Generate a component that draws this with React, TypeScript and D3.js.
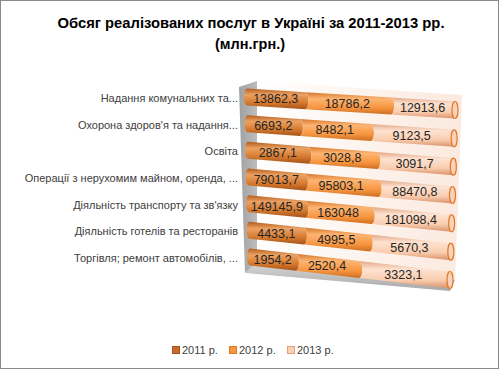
import React from 'react';
import * as d3 from 'd3';

const categories = [
  "Надання комунальних та...",
  "Охорона здоров'я та надання...",
  "Освіта",
  "Операції з нерухомим майном, оренда, ...",
  "Діяльність транспорту та зв'язку",
  "Діяльність готелів та ресторанів",
  "Торгівля; ремонт автомобілів, ...",
];
const seriesNames = ["2011 р.", "2012 р.", "2013 р."];
const values2011 = [13862.3, 6693.2, 2867.1, 79013.7, 149145.9, 4433.1, 1954.2];
const values2012 = [18786.2, 8482.1, 3028.8, 95803.1, 163048, 4995.5, 2520.4];
const values2013 = [12913.6, 9123.5, 3091.7, 88470.8, 181098.4, 5670.3, 3323.1];

const W = 500;
const H = 371;

// cylinder shading: top, highlight, base, bottom
const shades = [
  ["#b35d1c", "#eba264", "#d5782c", "#a4531a"],
  ["#d7772b", "#fcb573", "#f7953f", "#cc6c20"],
  ["#e2a887", "#fde2d0", "#f9ccae", "#d8906a"],
];
const legendFill = ["#c9692a", "#f7963f", "#fbd0b4"];
const legendStroke = ["#a9541c", "#e07a2a", "#e6a17a"];

const fmt = (v: number) => String(v).replace('.', ',');

export default function App() {
  const series = [values2011, values2012, values2013];
  const rows = categories.map((c, i) => {
    const total = series.reduce((s, arr) => s + arr[i], 0);
    let acc = 0;
    const segs = series.map((arr, j) => {
      const t0 = acc / total;
      acc += arr[i];
      return { j, t0, t1: acc / total, v: arr[i] };
    });
    return { c, segs };
  });

  // perspective of the 3D plot: ends of each bar
  const yLeft = d3.scalePoint<string>().domain(categories).range([97, 257]);
  const yRight = d3.scalePoint<string>().domain(categories).range([110, 280]);
  const xLeft = d3.scalePoint<string>().domain(categories).range([247, 250]);
  const xRight = d3.scalePoint<string>().domain(categories).range([455, 450]);
  const pct = d3.scaleLinear().domain([0, 1]).range([0, 1]);
  const depth = 1.12;
  const warp = (t: number) => {
    const u = pct(t);
    return u / (u + (1 - u) * depth);
  };
  const pos = (c: string, t: number) => {
    const f = warp(t);
    const xl = xLeft(c)!, xr = xRight(c)!, yl = yLeft(c)!, yr = yRight(c)!;
    return [xl + f * (xr - xl), yl + f * (yr - yl)];
  };
  const r = 8.5;
  const rx = 3;

  const segPath = (c: string, t0: number, t1: number, first: boolean) => {
    const [x0, y0] = pos(c, t0);
    const [x1, y1] = pos(c, t1);
    return `M${x0},${y0 - r}L${x1},${y1 - r}A${rx},${r} 0 0 1 ${x1},${y1 + r}L${x0},${y0 + r}A${rx},${r} 0 0 ${first ? 1 : 0} ${x0},${y0 - r}Z`;
  };

  return (
    <svg width={W} height={H} style={{ position: 'absolute', left: 0, top: 0, background: '#fff' }}
      fontFamily="'Liberation Sans', Arial, sans-serif">
      <defs>
        {shades.map((s, j) => (
          <linearGradient key={j} id={`cyl${j}`} x1="0" y1="0" x2="0" y2="1">
            <stop offset="0" stopColor={s[0]} />
            <stop offset="0.3" stopColor={s[1]} />
            <stop offset="0.7" stopColor={s[2]} />
            <stop offset="1" stopColor={s[3]} />
          </linearGradient>
        ))}
        <linearGradient id="back" x1="0" y1="0" x2="1" y2="0">
          <stop offset="0" stopColor="#ffffff" />
          <stop offset="1" stopColor="#fbe9de" />
        </linearGradient>
        <linearGradient id="side" x1="0" y1="0" x2="1" y2="0">
          <stop offset="0" stopColor="#a0a0a0" />
          <stop offset="1" stopColor="#bdbdbd" />
        </linearGradient>
        <linearGradient id="floor" x1="0" y1="0" x2="0" y2="1">
          <stop offset="0" stopColor="#d8d8d8" />
          <stop offset="1" stopColor="#a8a8a8" />
        </linearGradient>
      </defs>

      <rect x={0.5} y={0.5} width={W - 2} height={H - 3} fill="#fff" stroke="#8a8a8a" />

      <text x={251} y={28} textAnchor="middle" fontWeight="bold" fontSize={14.5} fill="#000"
        textLength={387} lengthAdjust="spacingAndGlyphs">
        Обсяг реалізованих послуг в Україні за 2011-2013 рр.
      </text>
      <text x={250} y={49} textAnchor="middle" fontWeight="bold" fontSize={14.5} fill="#000">
        (млн.грн.)
      </text>

      {/* walls and floor */}
      <polygon points="257,81 462,95 455,280 257,262" fill="url(#back)" />
      <polygon points="245,273 257,262 455,280 450,291" fill="url(#floor)" />
      <polygon points="239,87 257,81 257,262 245,273" fill="url(#side)" />

      {/* bars */}
      {rows.map(({ c, segs }) => (
        <g key={c}>
          {segs.map((s) => (
            <path key={s.j} d={segPath(c, s.t0, s.t1, s.j === 0)} fill={`url(#cyl${s.j})`} />
          ))}
          {(() => {
            const [x, y] = pos(c, 1);
            return <ellipse cx={x} cy={y} rx={rx} ry={r} fill="#f9d2b9" stroke="#e07b2d" strokeWidth={1.2} />;
          })()}
          {segs.map((s) => {
            const [x, y] = pos(c, (s.t0 + s.t1) / 2);
            return (
              <text key={'l' + s.j} x={x} y={y + 4.5} textAnchor="middle" fontSize={12.5} fill="#262626">
                {fmt(s.v)}
              </text>
            );
          })}
          <text x={238} y={yLeft(c)! + 5} textAnchor="end" fontSize={11} fill="#404040">{c}</text>
        </g>
      ))}

      {/* legend */}
      {seriesNames.map((n, j) => {
        const lx = [172, 229, 287][j];
        return (
          <g key={n}>
            <rect x={lx + 0.5} y={346.5} width={7} height={7} fill={legendFill[j]} stroke={legendStroke[j]} />
            <text x={lx + 10} y={354} fontSize={11} fill="#404040">{n}</text>
          </g>
        );
      })}
    </svg>
  );
}
